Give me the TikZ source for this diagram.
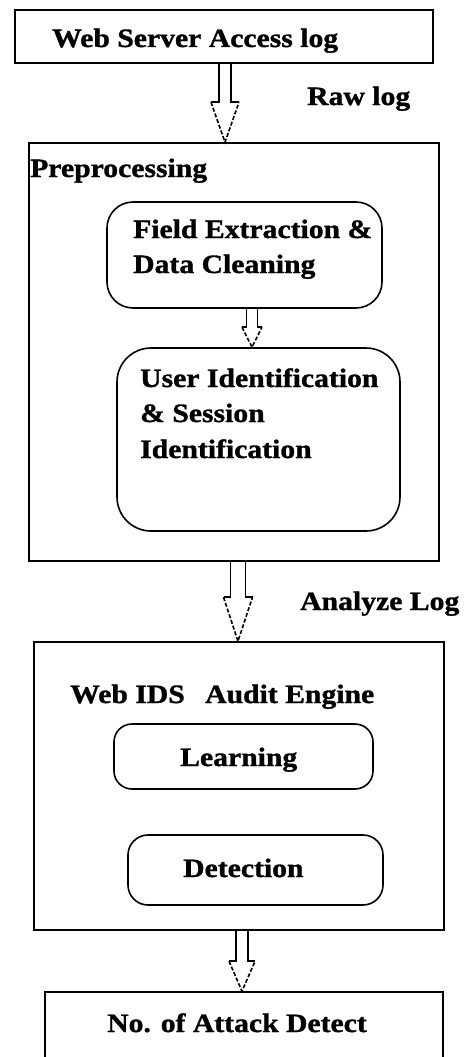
\documentclass[tikz,border=0pt]{standalone}
\usepackage{fontspec}
\setmainfont{Liberation Serif}[FakeStretch=1.12, BoldFeatures={FakeStretch=1.12, FakeBold=1.2}]
\usetikzlibrary{calc}
\tikzset{
  ln/.style={line width=1.6pt},
  sqbox/.style={ln, draw, rectangle, inner sep=0pt},
  rbox/.style={sqbox, rounded corners=#1},
  lbl/.style={anchor=base west, inner sep=0pt, font=\fontsize{26.5}{36}\selectfont\bfseries},
}
% #1 from node, #2 to node, #3 x (px), #4 shaft half, #5 head half, #6 head length
\newcommand{\blockarr}[6]{%
  \draw[ln, line join=miter] let \p1=(#1.south), \p2=(#2.north) in
    ({#3pt-#4pt},\y1) -- ({#3pt-#4pt},{\y2+#6pt}) -- ({#3pt-#5pt},{\y2+#6pt});
  \draw[ln, dash pattern=on 4pt off 2pt] let \p2=(#2.north) in
    ({#3pt-#5pt},{\y2+#6pt}) -- (#3pt,\y2) -- ({#3pt+#5pt},{\y2+#6pt});
  \draw[ln, line join=miter] let \p1=(#1.south), \p2=(#2.north) in
    ({#3pt+#5pt},{\y2+#6pt}) -- ({#3pt+#4pt},{\y2+#6pt}) -- ({#3pt+#4pt},\y1);
}
\begin{document}
\begin{tikzpicture}[x=1pt,y=-1pt]
\useasboundingbox (0,0) rectangle (464,1057);
\clip (0,0) rectangle (464,1057);
% boxes
\node[sqbox, minimum width=418pt, minimum height=53pt] (b1) at (224,36.5) {};
\node[sqbox, minimum width=410pt, minimum height=418pt] (b2) at (234,352) {};
\node[rbox=26pt, minimum width=275pt, minimum height=106pt] (fe) at (244.5,255) {};
\node[rbox=34pt, minimum width=283pt, minimum height=183pt] (ui) at (258.5,439.5) {};
\node[sqbox, minimum width=410pt, minimum height=288pt] (b3) at (239,786) {};
\node[rbox=18pt, minimum width=259pt, minimum height=65pt] (learn) at (243.5,756.5) {};
\node[rbox=20pt, minimum width=255pt, minimum height=70pt] (det) at (255.5,870) {};
\node[sqbox, minimum width=398pt, minimum height=88pt] (b4) at (244,1036) {};
% texts
\node[lbl] (t1) at (52,47) {Web Server Access log};
\node[lbl] (traw) at (307,105) {Raw log};
\node[lbl] (tpre) at (30,177) {Preprocessing};
\node[lbl] (tfe1) at (133,238) {Field Extraction \&};
\node[lbl] (tfe2) at (133,273) {Data Cleaning};
\node[lbl] (tui1) at (140,387) {User Identification};
\node[lbl] (tui2) at (140,422) {\& Session};
\node[lbl] (tui3) at (140,458) {Identification};
\node[lbl] (tan) at (300,610) {Analyze Log};
\node[lbl] (tweb) at (70,703) {Web IDS};
\node[lbl] (taud) at (205,703) {Audit Engine};
\node[lbl] (tlearn) at (180,766) {Learning};
\node[lbl] (tdet) at (183,877) {Detection};
\node[lbl] (tno) at (107,1032) {No. of Attack Detect};
% arrows
\blockarr{b1}{b2}{225}{6}{14}{40}
\blockarr{fe}{ui}{252}{5.5}{10}{20}
\blockarr{b2}{b3}{238}{7.5}{14.5}{44}
\blockarr{b3}{b4}{242}{6}{13}{30}
\end{tikzpicture}
\end{document}
